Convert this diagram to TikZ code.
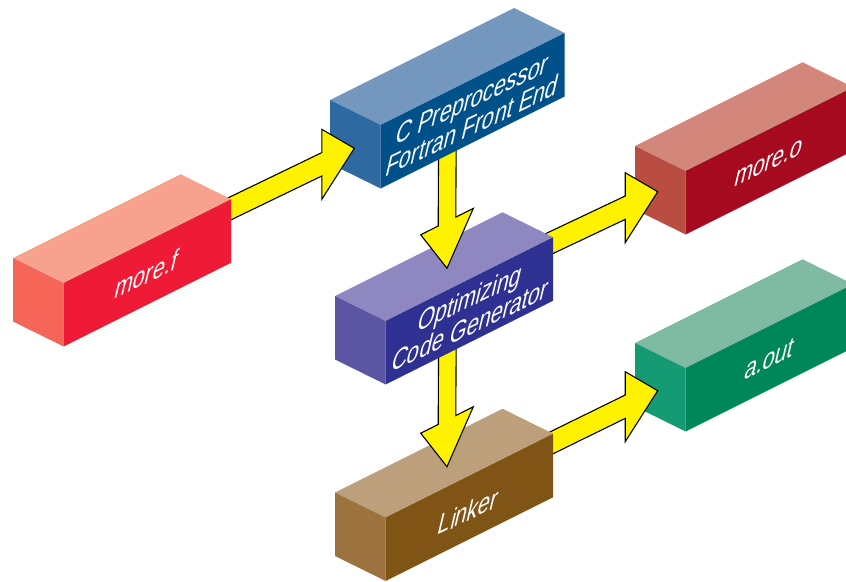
\documentclass[tikz,border=0pt]{standalone}
\usepackage{fontspec}
\setmainfont{Liberation Sans}
\usetikzlibrary{calc}
\definecolor{arrowyellow}{HTML}{FFF200}
\tikzset{
  x=1pt,y=-1pt,
  boxlabel/.style={text=white,font=\fontsize{10}{10.2}\selectfont,align=center,inner sep=0pt,
    cm={2.17,1.04,0.7,3.0,(0,0)},transform shape},
  flow/.style={draw=black,line width=1.1pt,fill=arrowyellow,line join=miter,miter limit=10}
}
% \boxpts{name}{x}{y}{width}: named corners of a box
\newcommand{\boxpts}[4]{%
  \coordinate (#1-lt) at (#2,#3);
  \coordinate (#1-ft) at ($(#1-lt)+(50.7,25)$);
  \coordinate (#1-rt) at ($(#1-ft)+(#4,-#4/2)$);
  \coordinate (#1-bk) at ($(#1-lt)+(#4,-#4/2)$);
  \coordinate (#1-lb) at ($(#1-lt)+(0,63.5)$);
  \coordinate (#1-fb) at ($(#1-ft)+(0,63.5)$);
  \coordinate (#1-rb) at ($(#1-rt)+(0,63.5)$);
}
% \isobox{name}{top}{left}{front}
\newcommand{\isobox}[4]{%
  \fill[#2] (#1-lt) -- (#1-bk) -- (#1-rt) -- (#1-ft) -- cycle;
  \fill[#3] (#1-lt) -- (#1-ft) -- (#1-fb) -- (#1-lb) -- cycle;
  \fill[#4] (#1-ft) -- (#1-rt) -- (#1-rb) -- (#1-fb) -- cycle;
}
% \blockarrow{tail}{tip}{shaft half}{head half}{head length}
\newcommand{\blockarrow}[5]{%
  \draw[flow] ($(#1)+(#3)$) -- ($(#2)-(#5)+(#3)$) -- ($(#2)-(#5)+(#4)$) -- (#2)
    -- ($(#2)-(#5)-(#4)$) -- ($(#2)-(#5)-(#3)$) -- ($(#1)-(#3)$) -- cycle;
}
\begin{document}
\begin{tikzpicture}
\useasboundingbox (0,0) rectangle (846,581);
\clip (0,0) rectangle (846,581);
\boxpts{source}{13}{258}{167.5}
\boxpts{cpp}{330}{100}{184}
\boxpts{opt}{335}{296}{167.5}
\boxpts{linker}{335}{492.5}{167.5}
\boxpts{object}{635}{146}{167.5}
\boxpts{aout}{635}{343}{167.5}
% arrow ends
\coordinate (source-out) at (222,212.5);
\coordinate (cpp-in) at (354.3,148.3);
\coordinate (cpp-out) at (447.4,140);
\coordinate (opt-in) at (447,268.3);
\coordinate (opt-obj) at (540,248);
\coordinate (object-in) at (657.7,191.7);
\coordinate (opt-down) at (447.4,340);
\coordinate (linker-in) at (447,466.7);
\coordinate (linker-out) at (540,448.5);
\coordinate (aout-in) at (657.7,390.7);

\isobox{object}{color={rgb,255:red,210;green,135;blue,122}}{color={rgb,255:red,185;green,77;blue,66}}{color={rgb,255:red,165;green,10;blue,31}}
\isobox{aout}{color={rgb,255:red,127;green,186;blue,162}}{color={rgb,255:red,20;green,155;blue,116}}{color={rgb,255:red,0;green,135;blue,89}}
\blockarrow{linker-out}{aout-in}{0,-11.7}{0,-35}{32.5,-16}
\isobox{linker}{color={rgb,255:red,187;green,160;blue,123}}{color={rgb,255:red,156;green,115;blue,63}}{color={rgb,255:red,127;green,84;blue,21}}
\blockarrow{opt-down}{linker-in}{8.8,-4.4}{26.3,-13.2}{0,46.7}
\blockarrow{opt-obj}{object-in}{0,-11.7}{0,-35}{32.5,-16}
\isobox{opt}{color={rgb,255:red,143;green,136;blue,192}}{color={rgb,255:red,92;green,85;blue,163}}{color={rgb,255:red,46;green,49;blue,146}}
\blockarrow{cpp-out}{opt-in}{8.8,-4.4}{26.3,-13.2}{0,46.7}
\isobox{cpp}{color={rgb,255:red,116;green,151;blue,190}}{color={rgb,255:red,46;green,106;blue,161}}{color={rgb,255:red,0;green,81;blue,138}}
\blockarrow{source-out}{cpp-in}{0,-11.7}{0,-35}{32.5,-16}
\isobox{source}{color={rgb,255:red,247;green,162;blue,142}}{color={rgb,255:red,245;green,101;blue,88}}{color={rgb,255:red,239;green,27;blue,54}}

\node[boxlabel] (sourcelabel) at (147,274) {more.f};
\node[boxlabel] (cpplabel) at (469,114) {C Preprocessor\\\hspace*{6.6pt}Fortran Front End};
\node[boxlabel] (optlabel) at (467,313) {Optimizing\\\hspace*{6.6pt}Code Generator};
\node[boxlabel] (linkerlabel) at (469,511) {Linker};
\node[boxlabel] (objectlabel) at (769,163) {more.o};
\node[boxlabel] (aoutlabel) at (770,359) {a.out};
\end{tikzpicture}
\end{document}
